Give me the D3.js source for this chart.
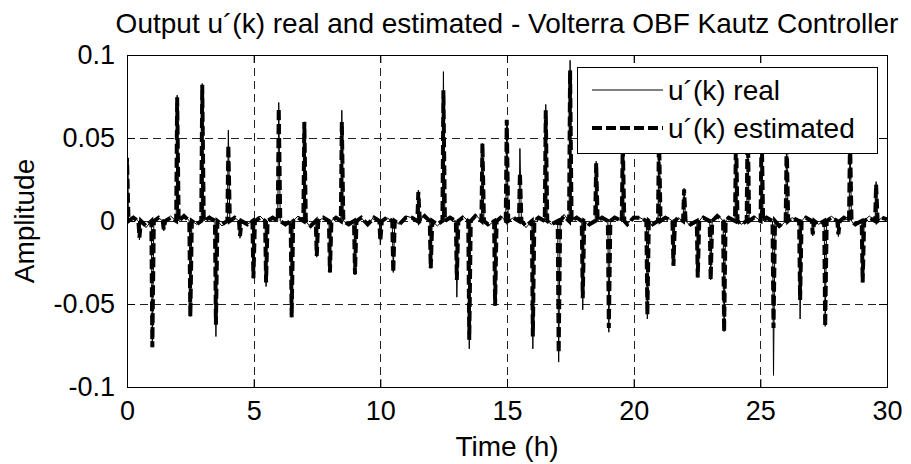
<!DOCTYPE html>
<html>
<head>
<meta charset="utf-8">
<script src="https://cdn.jsdelivr.net/npm/d3@7"></script>
<style>
body { margin: 0; background: #fff; }
text { font-family: "Liberation Sans", Arial, Helvetica, sans-serif; fill: #000; }
</style>
</head>
<body>
<script>
// Spike events: time (h), peak of real u'(k), peak of estimated u'(k)
var spikeTimes = [0.0, 0.49, 1.0, 1.45, 1.98, 2.5, 2.97, 3.51, 4.0, 4.46,
                  4.99, 5.49, 5.99, 6.5, 7.0, 7.49, 8.01, 8.48, 9.0, 10.0,
                  10.51, 11.5, 11.99, 12.49, 13.02, 13.51, 14.03, 14.53, 14.99, 15.51,
                  16.02, 16.53, 17.04, 17.49, 17.99, 18.52, 19.02, 19.57, 20.54, 21.0,
                  21.57, 21.99, 22.53, 23.04, 23.57, 24.04, 24.5, 25.05, 25.52, 26.04,
                  26.57, 27.07, 27.56, 28.08, 28.54, 29.04, 29.57];
var realPeaks = [0.040, -0.0114, -0.076, -0.006, 0.0758, -0.0575, 0.0828, -0.0696, 0.0547, -0.0104,
                 -0.0345, -0.0395, 0.0714, -0.058, 0.0597, -0.0218, -0.031, 0.0667, -0.0325, -0.0144,
                 -0.031, 0.0186, -0.0285, 0.090, -0.0459, -0.077, 0.0467, -0.0511, 0.060, 0.0437,
                 -0.077, 0.0702, -0.085, 0.0968, -0.0535, 0.036, -0.067, 0.050, -0.059, 0.055,
                 -0.027, 0.0197, -0.034, -0.0355, -0.0666, 0.056, 0.065, 0.060, -0.093, 0.050,
                 -0.059, -0.009, -0.0635, -0.0094, 0.052, -0.037, 0.0237];
var estPeaks = [0.038, -0.010, -0.076, -0.005, 0.0745, -0.0575, 0.082, -0.0625, 0.0457, -0.009,
                -0.0345, -0.037, 0.068, -0.058, 0.0597, -0.021, -0.031, 0.0597, -0.032, -0.012,
                -0.031, 0.0175, -0.0285, 0.0788, -0.0355, -0.0716, 0.0467, -0.0511, 0.061, 0.029,
                -0.0696, 0.0667, -0.0796, 0.0908, -0.0465, 0.0347, -0.0645, 0.048, -0.0565, 0.053,
                -0.027, 0.019, -0.034, -0.0355, -0.0666, 0.054, 0.063, 0.058, -0.0645, 0.048,
                -0.0475, -0.008, -0.0635, -0.008, 0.050, -0.037, 0.022];

// small ripples of the baseline between the spikes
var rippleTimes = [0.25, 0.75, 1.25, 1.72, 2.25, 2.75, 3.25, 3.75, 4.25, 4.75,
                   5.25, 5.75, 6.25, 6.75, 7.25, 7.75, 8.25, 8.75, 9.25, 9.5,
                   9.75, 10.25, 10.75, 11.0, 11.25, 11.75, 12.25, 12.75, 13.25, 13.75,
                   14.25, 14.75, 15.25, 15.75, 16.25, 16.75, 17.25, 17.75, 18.25, 18.75,
                   19.25, 19.75, 20.0, 20.25, 20.75, 21.25, 21.75, 22.25, 22.75, 23.3,
                   23.75, 24.25, 24.75, 25.25, 25.75, 26.25, 26.8, 27.3, 27.8, 28.3,
                   28.75, 29.3, 29.8];
var rippleReal = [0.003, -0.004, 0.002, 0.003, 0.004, -0.002, 0.003, -0.003, 0.002, -0.002,
                  0.003, 0.002, -0.003, 0.003, -0.004, 0.002, 0.003, -0.002, 0.002, -0.003,
                  0.003, 0.002, -0.002, 0.003, 0.002, 0.004, -0.003, 0.002, 0.003, 0.004,
                  -0.003, 0.003, 0.002, -0.004, 0.003, -0.002, 0.004, 0.002, -0.003, 0.003,
                  0.002, -0.002, 0.003, 0.002, -0.003, 0.003, 0.002, -0.003, 0.003, 0.004,
                  0.002, -0.002, 0.003, 0.003, -0.004, 0.002, 0.003, -0.002, 0.003, 0.002,
                  -0.003, 0.003, 0.002];
var rippleEst = [0.002, -0.003, 0.002, 0.002, 0.003, -0.002, 0.002, -0.002, 0.002, -0.002,
                 0.002, 0.002, -0.002, 0.002, -0.003, 0.002, 0.002, -0.002, 0.002, -0.002,
                 0.002, 0.002, -0.002, 0.002, 0.002, 0.003, -0.002, 0.002, 0.002, 0.003,
                 -0.002, 0.002, 0.002, -0.003, 0.002, -0.002, 0.003, 0.002, -0.002, 0.002,
                 0.002, -0.002, 0.002, 0.002, -0.002, 0.002, 0.002, -0.002, 0.002, 0.003,
                 0.002, -0.002, 0.002, 0.002, -0.003, 0.002, 0.002, -0.002, 0.002, 0.002,
                 -0.002, 0.002, 0.002];

var xTicks = [0, 5, 10, 15, 20, 25, 30];
var yTicks = [-0.1, -0.05, 0, 0.05, 0.1];
var yTickLabels = ['-0.1', '-0.05', '0', '0.05', '0.1'];
var seriesNames = ['u\u00b4(k) real', 'u\u00b4(k) estimated'];

var width = 911, height = 464;
var margin = {top: 55, right: 24, bottom: 77, left: 127};

var svg = d3.select('body')
            .append('svg')
            .attr('width', width)
            .attr('height', height)
            .style('background', '#fff');

var x = d3.scaleLinear().domain([0, 30]).range([margin.left, width - margin.right]);
var y = d3.scaleLinear().domain([-0.1, 0.1]).range([height - margin.bottom, margin.top]);

// build one polyline per series from the spike table + ripples
function buildSeries(peaks, ripples) {
  var pts = [];
  spikeTimes.forEach(function(t, i) {
    pts.push([t - 0.04, 0]);
    pts.push([t, peaks[i]]);
    pts.push([t + 0.06, 0]);
  });
  rippleTimes.forEach(function(t, i) {
    pts.push([t, ripples[i]]);
  });
  pts.sort(function(a, b) { return a[0] - b[0]; });
  pts.push([30, 0.001]);
  return pts;
}
var realData = buildSeries(realPeaks, rippleReal);
var estData = buildSeries(estPeaks, rippleEst);

svg.append('clipPath').attr('id', 'plotclip')
   .append('rect')
   .attr('x', x(0)).attr('y', y(0.1))
   .attr('width', x(30) - x(0)).attr('height', y(-0.1) - y(0.1));

// grid
var grid = svg.append('g');
grid.selectAll('.vg').data(xTicks.slice(1, -1)).enter()
    .append('line')
    .attr('x1', function(d) { return Math.round(x(d)) + 0.5; })
    .attr('x2', function(d) { return Math.round(x(d)) + 0.5; })
    .attr('y1', y(0.1)).attr('y2', y(-0.1))
    .attr('stroke', '#222').attr('stroke-dasharray', '8,5');
grid.selectAll('.hg').data(yTicks.slice(1, -1)).enter()
    .append('line')
    .attr('y1', function(d) { return Math.round(y(d)) + 0.5; })
    .attr('y2', function(d) { return Math.round(y(d)) + 0.5; })
    .attr('x1', x(0)).attr('x2', x(30))
    .attr('stroke', '#222').attr('stroke-dasharray', '8,5');

var line = d3.line()
             .x(function(d) { return x(d[0]); })
             .y(function(d) { return y(d[1]); });

var plot = svg.append('g').attr('clip-path', 'url(#plotclip)');
plot.append('path')
    .attr('d', line(realData))
    .attr('fill', 'none')
    .attr('stroke', '#000')
    .attr('stroke-width', 1);
plot.append('path')
    .attr('d', line(estData))
    .attr('fill', 'none')
    .attr('stroke', '#000')
    .attr('stroke-width', 4)
    .attr('stroke-dasharray', '10,4');

// axes (MATLAB style: ticks inside, on all four sides)
var tickLen = 8;
svg.append('g')
   .attr('transform', 'translate(0,' + y(-0.1) + ')')
   .call(d3.axisBottom(x).tickValues(xTicks).tickSizeInner(-tickLen).tickSizeOuter(0).tickPadding(14))
   .call(function(g) {
     g.select('.domain').remove();
     g.selectAll('text').attr('font-size', 27).attr('dy', '0.71em')
      .attr('font-family', '"Liberation Sans", Arial, sans-serif');
   });
svg.append('g')
   .attr('transform', 'translate(0,' + y(0.1) + ')')
   .call(d3.axisTop(x).tickValues(xTicks).tickSizeInner(-tickLen).tickSizeOuter(0).tickFormat(''))
   .call(function(g) { g.select('.domain').remove(); });
svg.append('g')
   .attr('transform', 'translate(' + x(0) + ',0)')
   .call(d3.axisLeft(y).tickValues(yTicks).tickSizeInner(-tickLen).tickSizeOuter(0).tickPadding(12)
         .tickFormat(function(d, i) { return yTickLabels[i]; }))
   .call(function(g) {
     g.select('.domain').remove();
     g.selectAll('text').attr('font-size', 27)
      .attr('font-family', '"Liberation Sans", Arial, sans-serif');
   });
svg.append('g')
   .attr('transform', 'translate(' + x(30) + ',0)')
   .call(d3.axisRight(y).tickValues(yTicks).tickSizeInner(-tickLen).tickSizeOuter(0).tickFormat(''))
   .call(function(g) { g.select('.domain').remove(); });

svg.append('rect')
   .attr('x', x(0) + 0.5).attr('y', y(0.1) + 0.5)
   .attr('width', x(30) - x(0)).attr('height', y(-0.1) - y(0.1))
   .attr('fill', 'none').attr('stroke', '#000');

// title and labels
svg.append('text')
   .attr('x', (x(0) + x(30)) / 2).attr('y', 33)
   .attr('text-anchor', 'middle').attr('font-size', 28)
   .text('Output u\u00b4(k) real and estimated - Volterra OBF Kautz Controller');
svg.append('text')
   .attr('x', (x(0) + x(30)) / 2).attr('y', 456)
   .attr('text-anchor', 'middle').attr('font-size', 28)
   .text('Time (h)');
svg.append('text')
   .attr('transform', 'translate(34,' + y(0) + ') rotate(-90)')
   .attr('text-anchor', 'middle').attr('font-size', 28)
   .text('Amplitude');

// legend
var legend = svg.append('g').attr('transform', 'translate(577,67)');
legend.append('rect')
      .attr('x', 0.5).attr('y', 0.5).attr('width', 300).attr('height', 86)
      .attr('fill', '#fff').attr('stroke', '#000');
legend.selectAll('.ll').data(seriesNames).enter()
      .append('line')
      .attr('x1', 15).attr('x2', 86)
      .attr('y1', function(d, i) { return 23 + i * 38; })
      .attr('y2', function(d, i) { return 23 + i * 38; })
      .attr('stroke', '#000')
      .attr('stroke-width', function(d, i) { return i ? 4 : 1; })
      .attr('stroke-dasharray', function(d, i) { return i ? '10,4' : null; });
legend.selectAll('.lt').data(seriesNames).enter()
      .append('text')
      .attr('x', 91)
      .attr('y', function(d, i) { return 23 + i * 38; })
      .attr('dy', '0.35em')
      .attr('font-size', 28)
      .text(function(d) { return d; });
</script>
</body>
</html>
